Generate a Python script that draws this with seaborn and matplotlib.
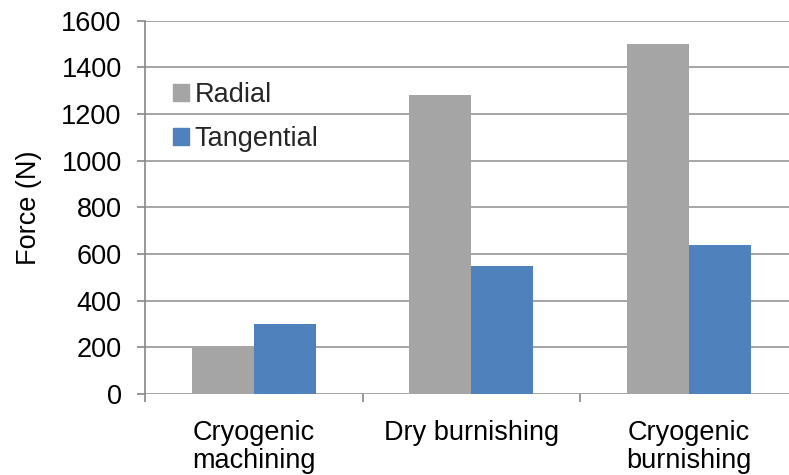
import matplotlib
matplotlib.use("Agg")
import matplotlib.pyplot as plt
import seaborn as sns
import pandas as pd
from matplotlib.ticker import FixedLocator

categories = ["Cryogenic\nmachining", "Dry burnishing", "Cryogenic\nburnishing"]
radial = [200, 1280, 1500]
tangential = [300, 550, 640]
series_names = ["Radial", "Tangential"]
y_ticks = [0, 200, 400, 600, 800, 1000, 1200, 1400, 1600]

df = pd.DataFrame({
    "Process": categories * 2,
    "Force": radial + tangential,
    "Component": [series_names[0]] * 3 + [series_names[1]] * 3,
})

sns.set_theme(style="white")
plt.rcParams["font.family"] = ["Liberation Sans", "DejaVu Sans"]

FS = 19.5
GREY_AX = "#868686"

fig = plt.figure(figsize=(7.89, 4.75), dpi=100)
ax = fig.add_axes([0.1838, 0.1705, 0.8162, 0.7859])

sns.barplot(
    data=df, x="Process", y="Force", hue="Component",
    palette={"Radial": "#A5A5A5", "Tangential": "#4F81BD"},
    width=0.57, saturation=1, edgecolor="none", ax=ax, legend=False,
)

ax.set_ylim(0, 1600)
ax.set_xlim(-0.5, 2.46)
ax.set_yticks(y_ticks)
ax.yaxis.grid(True, color="#969696", linewidth=1.2)
ax.set_axisbelow(True)

for side in ["top", "right", "bottom"]:
    ax.spines[side].set_visible(False)
ax.spines["left"].set_color(GREY_AX)
ax.spines["left"].set_linewidth(1.2)

ax.tick_params(axis="y", which="major", length=5.8, width=1.2, color=GREY_AX,
               direction="out", left=True, pad=11, labelsize=FS, labelcolor="black")
ax.tick_params(axis="x", which="major", length=0, pad=19, labelsize=FS, labelcolor="black")
ax.xaxis.set_minor_locator(FixedLocator([-0.5, 0.5, 1.5]))
ax.tick_params(axis="x", which="minor", length=5.8, width=1.2, color=GREY_AX,
               direction="out", bottom=True)
for lbl in ax.get_xticklabels():
    lbl.set_linespacing(1.08)

ax.set_xlabel("")
ax.set_ylabel("Force (N)", fontsize=FS, color="black", labelpad=14)

handles = [plt.Rectangle((0, 0), 1, 1, color=c) for c in ["#A5A5A5", "#4F81BD"]]
fig.legend(handles, series_names, loc="upper left",
           bbox_to_anchor=(0.219, 0.828), frameon=False, fontsize=FS,
           handlelength=0.6, handleheight=0.6, handletextpad=0.2,
           labelspacing=0.68, borderpad=0, borderaxespad=0)

fig.savefig("out.png", dpi=100)
